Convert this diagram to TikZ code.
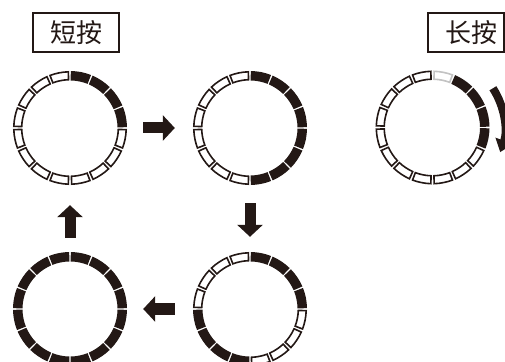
\documentclass[tikz,border=0pt]{standalone}
\usepackage{fontspec}
\newfontfamily\cjk{Noto Sans CJK SC}
\usetikzlibrary{arrows.meta}
\definecolor{ink}{RGB}{35,24,21}
\definecolor{lightseg}{RGB}{195,195,195}
\newcommand\BSeg[2]{%
  \pgfmathsetmacro\aS{90-22.5*(#2+1)+0.8}%
  \pgfmathsetmacro\aE{90-22.5*#2-0.8}%
  \fill[ink,shift={(#1.center)}] (\aS:57) arc[start angle=\aS,end angle=\aE,radius=57]
    -- (\aE:47.5) arc[start angle=\aE,end angle=\aS,radius=47.5] -- cycle;}
\newcommand\OSeg[3]{%
  \pgfmathsetmacro\aS{90-22.5*(#2+1)+1.7}%
  \pgfmathsetmacro\aE{90-22.5*#2-1.7}%
  \draw[#3,line width=1.6pt,fill=white,shift={(#1.center)}] (\aS:56.2) arc[start angle=\aS,end angle=\aE,radius=56.2]
    -- (\aE:48.3) arc[start angle=\aE,end angle=\aS,radius=48.3] -- cycle;}
\begin{document}
\begin{tikzpicture}[x=1pt,y=1pt,
  ring/.style={circle,minimum size=114pt,inner sep=0pt},
  label box/.style={draw=ink,line width=2pt,minimum height=39pt,inner sep=0pt,text=ink,
    font=\cjk\fontsize{26}{26}\selectfont},
  block arrow/.style={ink,line width=11pt,-{Triangle[width=25pt,length=12pt]}}]
\useasboundingbox (0,0) rectangle (505,361);
\clip (0,0) rectangle (505,361);
\fill[white] (0,0) rectangle (505,361);
% labels
\node[label box,minimum width=86pt] (short) at (76,328.5) {短按};
\node[label box,minimum width=76pt] (long) at (466,328.5) {\hspace{10pt}长按};
% rings
\node[ring] (r1) at (70,233) {};
\node[ring] (r2) at (250,233) {};
\node[ring] (r3) at (250,52) {};
\node[ring] (r4) at (70,52) {};
\node[ring] (rl) at (432.5,233.5) {};
% ring 1
\foreach \k in {0,...,3}{\BSeg{r1}{\k}}
\foreach \k in {4,...,15}{\OSeg{r1}{\k}{ink}}
% ring 2
\foreach \k in {0,...,7}{\BSeg{r2}{\k}}
\foreach \k in {8,...,15}{\OSeg{r2}{\k}{ink}}
% ring 3
\foreach \k in {0,...,3,8,9,10,11}{\BSeg{r3}{\k}}
\foreach \k in {4,...,7,12,13,14,15}{\OSeg{r3}{\k}{ink}}
% ring 4
\foreach \k in {0,...,15}{\BSeg{r4}{\k}}
% long press ring
\OSeg{rl}{0}{lightseg}
\foreach \k in {1,...,4}{\BSeg{rl}{\k}}
\foreach \k in {5,...,15}{\OSeg{rl}{\k}{ink}}
% arrows between rings
\draw[block arrow,shorten <=16pt,shorten >=18pt] (r1) -- (r2);
\draw[block arrow,shorten <=18pt,shorten >=15pt] (r2) -- (r3);
\draw[block arrow,shorten <=18pt,shorten >=16pt] (r3) -- (r4);
\draw[block arrow,shorten <=14pt,shorten >=20pt] (r4) -- (r1);
% curved arrow for long press
\draw[ink,line width=8pt,-{Triangle[width=18pt,length=12pt]}]
  ([shift={(33:72)}]rl.center) arc[start angle=33,end angle=-20,radius=72];
\end{tikzpicture}
\end{document}
